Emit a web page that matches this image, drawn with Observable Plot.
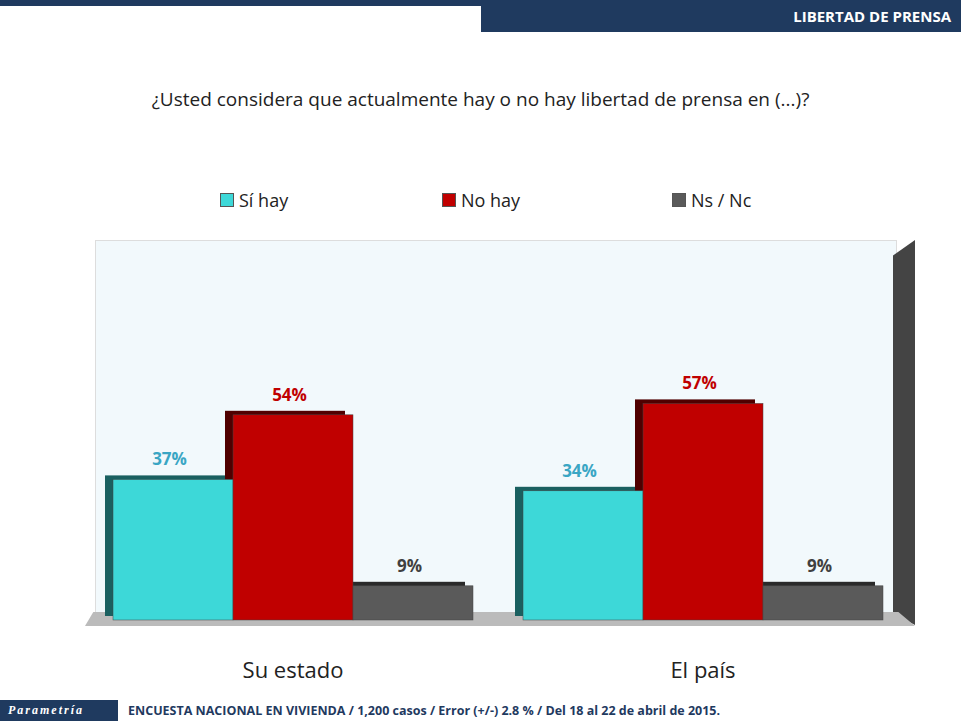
<!DOCTYPE html>
<html><head><meta charset="utf-8">
<script src="https://cdn.jsdelivr.net/npm/d3@7"></script>
<script src="https://cdn.jsdelivr.net/npm/@observablehq/plot@0.6"></script>
<style>
body{margin:0;width:961px;height:721px;position:relative;background:#fff;font-family:"Open Sans",sans-serif;overflow:hidden}
#hdr{position:absolute;top:0;right:0;width:480px;height:32px;background:#1f3a5f;color:#fff;font-weight:bold;font-size:15px;text-align:right;line-height:32px;padding-right:10px;box-sizing:border-box}
#topline{position:absolute;top:0;left:0;width:961px;height:6px;background:#1f3a5f}
#title{position:absolute;top:86px;left:0;width:961px;text-align:center;font-size:19px;color:#222}
#legend{position:absolute;top:188px;left:0;width:961px;font-size:18px;color:#222}
.li{position:absolute;display:flex;align-items:center}
.sw{width:12px;height:12px;margin-right:5px;border:1px solid #555}
#pane{position:absolute;left:95px;top:240px;width:800px;height:372px;background:#f2f9fc;border:1px solid #ddd}
#wall{position:absolute;left:893px;top:240px;width:22px;height:385px;background:#444;clip-path:polygon(0 4%,100% 0,100% 100%,0 97%)}
#floor{position:absolute;left:85px;top:612px;width:830px;height:14px;background:#bbb;clip-path:polygon(1% 0,98% 0,100% 100%,0 100%)}
#chart{position:absolute;top:230px;left:0}
#foot{position:absolute;top:700px;left:0;width:961px;height:21px;background:#fff}
#foot .brand{position:absolute;left:0;top:0;width:118px;height:21px;background:#1f3a5f;color:#fff;font-style:italic;font-weight:bold;font-size:12px;line-height:21px;letter-spacing:2px;padding-left:8px;box-sizing:border-box;font-family:serif}
#foot .txt{position:absolute;left:128px;top:0;line-height:21px;font-size:12.5px;font-weight:bold;color:#1f3a5f}
</style></head><body>
<div id="topline"></div>
<div id="hdr">LIBERTAD DE PRENSA</div>
<div id="title">¿Usted considera que actualmente hay o no hay libertad de prensa en (...)?</div>
<div id="legend"></div>
<div id="pane"></div><div id="wall"></div><div id="floor"></div>
<div id="chart"></div>
<div id="foot"><div class="brand">Parametría</div><div class="txt">ENCUESTA NACIONAL EN VIVIENDA / 1,200 casos / Error (+/-) 2.8 % / Del 18 al 22 de abril de 2015.</div></div>
<script>
const groups = ["Su estado","El país"];
const series = ["Sí hay","No hay","Ns / Nc"];
const suEstado = [37,54,9];
const elPais = [34,57,9];
const colors = ["#3dd8d8","#c00000","#5a5a5a"];
const sideColors = ["#1a6060","#500000","#2a2a2a"];
const labelColors = ["#3aa6c4","#c00000","#404040"];

const data = [];
groups.forEach((g,gi)=>series.forEach((s,si)=>data.push({group:g,series:s,value:(gi?elPais:suEstado)[si]})));

const legendX=[220,442,672];
const lg=document.getElementById("legend");
series.forEach((s,i)=>{const d=document.createElement("div");d.className="li";d.style.left=legendX[i]+"px";d.innerHTML=`<span class="sw" style="background:${colors[i]}"></span>${s}`;lg.appendChild(d);});

const chart = Plot.plot({
  width:961,height:470,marginTop:10,marginBottom:80,marginLeft:112,marginRight:78,
  style:{fontFamily:"Open Sans, sans-serif",background:"transparent"},
  fx:{domain:groups,padding:0.12,label:null,axis:"bottom",tickSize:0},
  x:{domain:series,padding:0,axis:null},
  y:{domain:[0,100],axis:null},
  color:{domain:series,range:colors},
  marks:[
    Plot.barY(data,{fx:"group",x:"series",y:"value",fill:d=>sideColors[series.indexOf(d.series)],dx:-8,dy:-4}),
    Plot.barY(data,{fx:"group",x:"series",y:"value",fill:"series",stroke:"#444",strokeWidth:0.5}),
    Plot.text(data,{fx:"group",x:"series",y:"value",text:d=>d.value+"%",dy:-20,dx:-4,fontSize:17,fontWeight:"bold",fill:d=>labelColors[series.indexOf(d.series)]})
  ]
});
chart.querySelectorAll('[aria-label="fx-axis tick label"] text').forEach(t=>{t.setAttribute("font-size","22");t.setAttribute("fill","#222");t.setAttribute("dy","1.5em");});
document.getElementById("chart").appendChild(chart);
</script>
</body></html>
